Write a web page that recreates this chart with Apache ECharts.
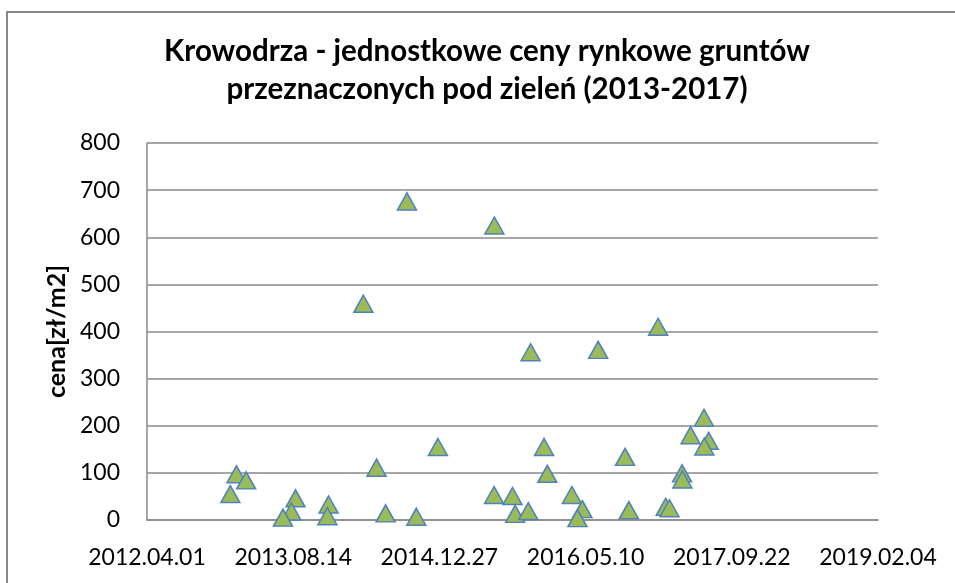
<!DOCTYPE html>
<html>
<head>
<meta charset="utf-8">
<title>Krowodrza - ceny gruntów</title>
<script src="https://cdn.jsdelivr.net/npm/echarts@6/dist/echarts.min.js"></script>
<style>
  html, body { margin: 0; padding: 0; background: #fff; }
  #main { width: 955px; height: 583px; }
</style>
</head>
<body>
<div id="main"></div>
<script>
// daty transakcji (numer dnia jak w Excelu) i ceny [zł/m2]
var dates = [
  41889, 41740, 41995, 41785, 41306, 41339, 41285, 41508, 41494, 41465,
  41621, 41617, 41816, 41921, 42188, 42748, 42312, 42543, 42905, 42859,
  42921, 42906, 42358, 42635, 42369, 42830, 42831, 42187, 42250, 42453,
  42259, 42304, 42489, 42472, 42648, 42774, 42787
];
var prices = [
  676, 459, 155, 111, 97, 84, 55, 46, 18, 5,
  33, 8, 14, 7, 625, 410, 356, 361, 217, 180,
  168, 156, 155, 134, 98, 99, 86, 53, 51, 53,
  13, 19, 23, 4, 21, 28, 25
];
var xTicks = [41000, 43500, 500];   // min, max, co ile dni
var yTicks = [0, 800, 100];

var points = dates.map(function (d, i) { return [d, prices[i]]; });

// numer dnia Excela -> rrrr.mm.dd
function excelDate(v) {
  var d = new Date(Date.UTC(1899, 11, 30) + v * 86400000);
  var mm = ('0' + (d.getUTCMonth() + 1)).slice(-2);
  var dd = ('0' + d.getUTCDate()).slice(-2);
  return d.getUTCFullYear() + '.' + mm + '.' + dd;
}

var myChart = echarts.init(document.getElementById('main'));

var gridColor = '#8a8a8a';
var font = 'Lato, "Open Sans", sans-serif';

var option = {
  backgroundColor: '#fff',
  animation: false,
  title: {
    text: 'Krowodrza - jednostkowe ceny rynkowe gruntów\nprzeznaczonych pod zieleń (2013-2017)',
    left: 487,
    textAlign: 'center',
    top: 32,
    padding: 0,
    textStyle: {
      fontFamily: font,
      fontSize: 29.5,
      fontWeight: 'bold',
      lineHeight: 38,
      color: '#000'
    }
  },
  grid: {
    left: 147,
    top: 143,
    width: 731,
    height: 377
  },
  xAxis: {
    type: 'value',
    min: xTicks[0],
    max: xTicks[1],
    interval: xTicks[2],
    axisLine: { show: true, lineStyle: { color: gridColor, width: 1.5 } },
    axisTick: { show: false },
    splitLine: { show: false },
    axisLabel: {
      margin: 26,
      fontFamily: font,
      fontSize: 23,
      color: '#000',
      formatter: excelDate
    }
  },
  yAxis: {
    type: 'value',
    min: yTicks[0],
    max: yTicks[1],
    interval: yTicks[2],
    name: 'cena[zł/m2]',
    nameLocation: 'middle',
    nameRotate: 90,
    nameGap: 76,
    nameTextStyle: {
      fontFamily: font,
      fontSize: 25,
      fontWeight: 'bold',
      color: '#000'
    },
    axisLine: { show: true, lineStyle: { color: gridColor, width: 1.5 } },
    axisTick: { show: false },
    splitLine: { show: true, lineStyle: { color: gridColor, width: 1.5 } },
    axisLabel: {
      margin: 27,
      fontFamily: font,
      fontSize: 23,
      color: '#000'
    }
  },
  graphic: [{
    type: 'rect',
    shape: { x: 7, y: 12, width: 1000, height: 700 },
    style: { fill: 'none', stroke: '#878787', lineWidth: 2 },
    silent: true
  }],
  series: [{
    name: 'cena',
    type: 'scatter',
    symbol: 'triangle',
    symbolSize: [19, 17],
    itemStyle: {
      color: '#9bbb59',
      borderColor: '#4f81bd',
      borderWidth: 1.5,
      opacity: 1
    },
    data: points
  }]
};

myChart.setOption(option);
</script>
</body>
</html>
